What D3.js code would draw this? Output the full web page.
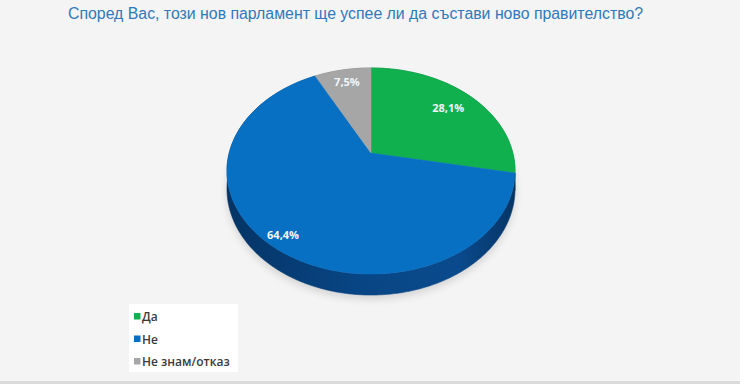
<!DOCTYPE html>
<html>
<head>
<meta charset="utf-8">
<script src="https://cdn.jsdelivr.net/npm/d3@7"></script>
<style>
  html, body { margin: 0; padding: 0; background: #f4f4f4; }
  svg { display: block; }
</style>
</head>
<body>
<script>
// ---- data ----
const titleText = "Според Вас, този нов парламент ще успее ли да състави ново правителство?";
const categories = ["Да", "Не", "Не знам/отказ"];
const values = [28.1, 64.4, 7.5];
const valueLabels = ["28,1%", "64,4%", "7,5%"];

// ---- styling / layout ----
const topColors = ["#10b04e", "#0870c2", "#a6a6a6"];
const sideColors = ["#0a7a36", "#084585", "#777777"];
const labelRadius = [0.765, 0.9, 0.83];

const W = 740, H = 384;
const svg = d3.select("body").append("svg").attr("width", W).attr("height", H);
const defs = svg.append("defs");

svg.append("rect").attr("width", W).attr("height", H).attr("fill", "#f4f4f4");
svg.append("rect").attr("x", 0).attr("y", 381).attr("width", W).attr("height", 3).attr("fill", "#dadada");

// title
svg.append("text")
  .attr("x", 68).attr("y", 19)
  .attr("textLength", 575).attr("lengthAdjust", "spacingAndGlyphs")
  .attr("font-family", "'Liberation Sans Narrow', 'Arial Narrow', 'Liberation Sans', Arial, sans-serif")
  .attr("font-size", 16)
  .attr("fill", "#3079bb")
  .text(titleText);

// perspective projection of a tilted disc
const X0 = 371, Y0 = 153, A = 141.8, B = 99.9, D = 5.72, DEPTH = 17.3;
function proj(theta, f, drop) {
  const u = f * Math.sin(theta), v = -f * Math.cos(theta);
  const s = D / (D - v);
  return [X0 + A * u * s, Y0 + B * v * s + (drop || 0) * s];
}

const pie = d3.pie().sort(null).value(d => d);
const arcs = pie(values);

function arcPoints(a0, a1, drop) {
  const n = Math.max(4, Math.ceil((a1 - a0) / 0.01));
  return d3.range(n + 1).map(i => proj(a0 + (a1 - a0) * i / n, 1, drop));
}
const line = d3.line();

// shadow
const blur = defs.append("filter").attr("id", "sh").attr("x", "-20%").attr("y", "-20%").attr("width", "140%").attr("height", "140%");
blur.append("feGaussianBlur").attr("stdDeviation", 4);
svg.append("path")
  .attr("d", line(arcPoints(0, 2 * Math.PI, DEPTH + 3)) + "Z")
  .attr("fill", "#000").attr("opacity", 0.14).attr("filter", "url(#sh)");

// side gradient
const grad = defs.append("linearGradient").attr("id", "sideBlue")
  .attr("gradientUnits", "userSpaceOnUse").attr("x1", 225).attr("x2", 517).attr("y1", 0).attr("y2", 0);
grad.append("stop").attr("offset", "0%").attr("stop-color", "#053465");
grad.append("stop").attr("offset", "45%").attr("stop-color", "#084584");
grad.append("stop").attr("offset", "80%").attr("stop-color", "#0a4a8c");
grad.append("stop").attr("offset", "100%").attr("stop-color", "#053465");

// sides
svg.append("g").selectAll("path").data(arcs).join("path")
  .attr("d", d => {
    const top = arcPoints(d.startAngle, d.endAngle, 0);
    const bot = arcPoints(d.startAngle, d.endAngle, DEPTH).reverse();
    return line(top.concat(bot)) + "Z";
  })
  .attr("fill", (d, i) => i === 1 ? "url(#sideBlue)" : sideColors[i])
  .attr("stroke", (d, i) => i === 1 ? "url(#sideBlue)" : sideColors[i])
  .attr("stroke-width", 0.6);

// tops
svg.append("g").selectAll("path").data(arcs).join("path")
  .attr("d", d => line([[X0, Y0]].concat(arcPoints(d.startAngle, d.endAngle, 0))) + "Z")
  .attr("fill", (d, i) => topColors[i])
  .attr("stroke", (d, i) => topColors[i])
  .attr("stroke-width", 0.5);

// value labels
svg.append("g").selectAll("text").data(arcs).join("text")
  .attr("x", (d, i) => proj((d.startAngle + d.endAngle) / 2, labelRadius[i], 0)[0])
  .attr("y", (d, i) => proj((d.startAngle + d.endAngle) / 2, labelRadius[i], 0)[1] + 4)
  .attr("text-anchor", "middle")
  .attr("font-family", "'Open Sans', 'DejaVu Sans', sans-serif")
  .attr("font-weight", 700)
  .attr("font-size", 11)
  .attr("fill", "#f2f6f8")
  .text((d, i) => valueLabels[i]);

// legend
const lg = svg.append("g");
lg.append("rect").attr("x", 129).attr("y", 304).attr("width", 109).attr("height", 68).attr("fill", "#ffffff");
const rowY = d3.scalePoint().domain(categories).range([321, 366]);
const items = lg.selectAll("g").data(categories).join("g");
items.append("rect")
  .attr("x", 134).attr("y", d => rowY(d) - 8)
  .attr("width", 6.5).attr("height", 6.5)
  .attr("fill", (d, i) => topColors[i]);
items.append("text")
  .attr("x", 142).attr("y", d => rowY(d))
  .attr("font-family", "'Open Sans', 'DejaVu Sans', sans-serif")
  .attr("font-weight", 600)
  .attr("font-size", 12)
  .attr("fill", "#3a3a3a")
  .text(d => d);
</script>
</body>
</html>
